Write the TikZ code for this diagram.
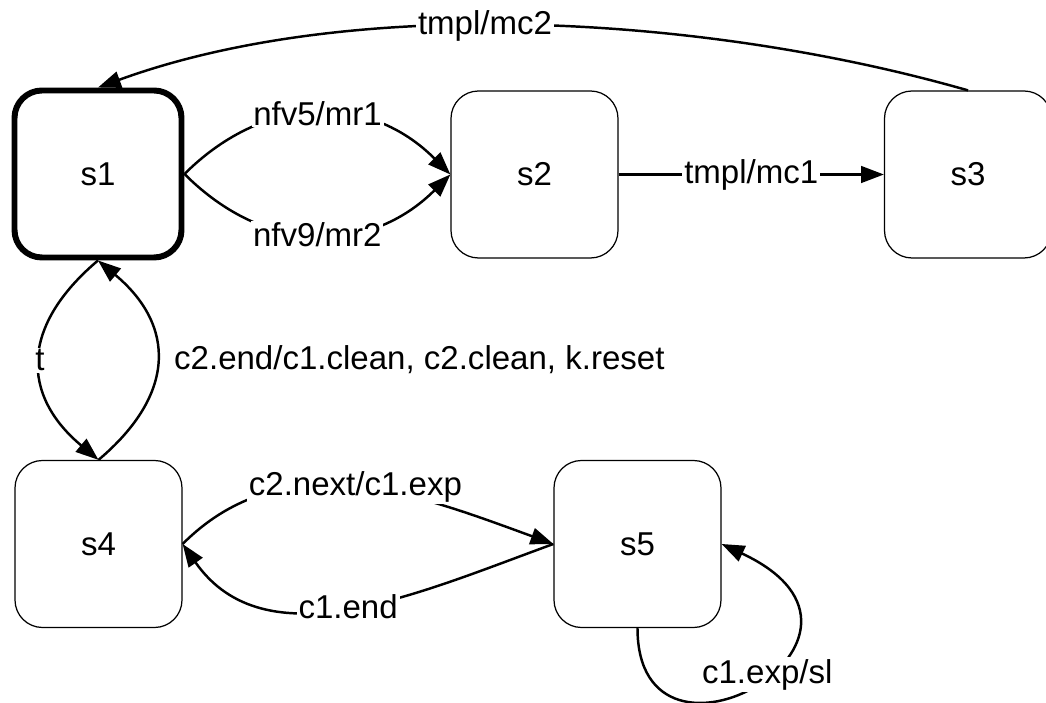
\documentclass[tikz,border=0pt]{standalone}
\usepackage{fontspec}
\setmainfont{Liberation Sans}
\usetikzlibrary{arrows.meta}

\begin{document}
\begin{tikzpicture}[line width=1.4pt, font=\fontsize{18.8}{22}\selectfont,
            state/.style={draw, line width=0.7pt, rounded corners=0.55cm, minimum size=3.34cm},
            initstate/.style={state, line width=3.4pt},
            lbl/.style={fill=white, inner sep=1pt},
            arr/.style={-{Triangle[length=13pt, width=9.5pt]}}]
            \useasboundingbox (0,0) rectangle (20.92,14.06);
            \node[initstate] (s1) at (1.96,10.58) {s1};
            \node[state] (s2) at (10.69,10.57) {s2};
            \node[state] (s3) at (19.36,10.57) {s3};
            \node[state] (s4) at (1.97,3.18) {s4};
            \node[state] (s5) at (12.75,3.18) {s5};
            \draw[arr] (s1.east) to[bend left=45, looseness=1.1] node[lbl] {nfv5/mr1} (s2.west);
            \draw[arr] (s1.east) to[bend right=45, looseness=1.1] node[lbl] {nfv9/mr2} (s2.west);
            \draw[arr] (s2) -- node[lbl] {tmpl/mc1} (s3);
            \draw[arr] (s3.north) to[out=164, in=20, looseness=0.8] node[lbl, pos=0.55] {tmpl/mc2} (s1.north);
            \draw[arr] (s1.south) to[bend right=50, looseness=1.3] node[lbl] {t} (s4.north);
            \draw[arr] (s4.north) to[bend right=50, looseness=1.3] node[right=6pt] {c2.end/c1.clean, c2.clean, k.reset} (s1.south);
            \draw[arr] (s4.east) to[out=45, in=160] node[lbl] {c2.next/c1.exp} (s5.west);
            \draw[arr] (s5.west) to[out=200, in=-55] node[lbl] {c1.end} (s4.east);
            \draw[arr] (s5.south) .. controls +(0,-3.4) and +(-25:4.4) .. node[lbl, pos=0.55] {c1.exp/sl} (s5.east);
        \end{tikzpicture}
\end{document}
